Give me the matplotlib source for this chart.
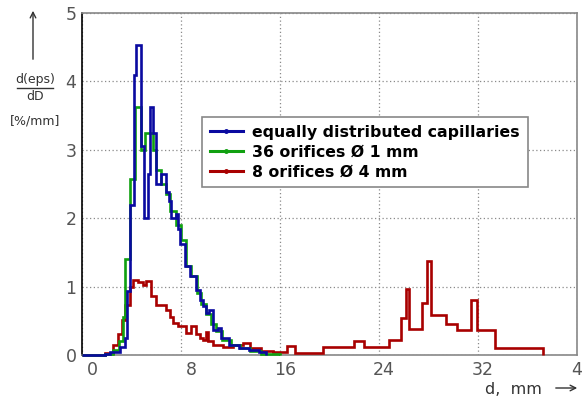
import matplotlib
matplotlib.use("Agg")
import matplotlib.pyplot as plt
import matplotlib.transforms as mtransforms
from matplotlib.lines import Line2D

# step edges (mm) and heights (%/mm)
blue_edges = [0, 1.85, 2.3, 3.06, 3.46, 3.6, 3.87, 4.22, 4.4, 4.75, 5.0, 5.35, 5.48,
              5.75, 6.02, 6.42, 6.77, 7.04, 7.22, 7.63, 7.76, 7.95, 8.3, 8.7, 9.24,
              9.5, 9.77, 10.05, 10.3, 10.6, 11.0, 11.26, 11.9, 12.7, 13.5, 14.3, 14.9]
blue_vals = [0, 0.02, 0.05, 0.12, 0.25, 0.93, 2.2, 4.09, 4.53, 3.06, 2.01, 2.65,
             3.63, 3.24, 2.5, 2.65, 2.38, 2.25, 2.01, 2.06, 1.84, 1.62, 1.3, 1.15,
             0.95, 0.81, 0.71, 0.61, 0.66, 0.37, 0.4, 0.25, 0.15, 0.1, 0.07, 0.04]

green_edges = [0, 1.85, 2.5, 3.0, 3.3, 3.46, 3.87, 4.3, 4.75, 5.1, 5.7, 6.0, 6.4,
               6.8, 7.1, 7.6, 8.0, 8.4, 8.8, 9.3, 9.6, 10.0, 10.4, 10.8, 11.3, 12.0,
               12.8, 13.6, 14.5, 16.0]
green_vals = [0, 0.02, 0.08, 0.2, 0.55, 1.4, 2.57, 3.63, 3.0, 3.24, 3.0, 2.7, 2.5,
              2.35, 2.1, 1.9, 1.68, 1.3, 1.15, 0.9, 0.75, 0.6, 0.45, 0.35, 0.22,
              0.15, 0.1, 0.06, 0.02]

red_edges = [0, 1.85, 2.5, 2.9, 3.2, 3.46, 3.87, 4.13, 4.53, 4.94, 5.2, 5.56, 6.02,
             6.8, 7.09, 7.36, 7.76, 8.4, 8.84, 9.24, 9.5, 9.77, 10.05, 10.15, 10.6,
             11.4, 12.2, 13.0, 13.6, 14.5, 15.4, 16.6, 17.2, 19.45, 22.0, 22.8, 24.8,
             25.8, 26.2, 26.4, 27.45, 27.9, 28.2, 29.4, 30.3, 31.45, 31.9, 33.4, 37.25]
red_vals = [0, 0.03, 0.15, 0.3, 0.51, 0.73, 1.0, 1.09, 1.06, 1.03, 1.08, 0.86, 0.73,
            0.66, 0.56, 0.47, 0.42, 0.32, 0.42, 0.3, 0.25, 0.22, 0.34, 0.2, 0.15,
            0.12, 0.15, 0.17, 0.1, 0.06, 0.05, 0.13, 0.03, 0.11, 0.2, 0.12, 0.22,
            0.54, 0.96, 0.38, 0.76, 1.38, 0.59, 0.45, 0.37, 0.81, 0.37, 0.1]

labels = ["equally distributed capillaries", "36 orifices \u00d8 1 mm", "8 orifices \u00d8 4 mm"]
colors = ["#0a0aa0", "#10a010", "#a80000"]
x_ticks = [0, 8, 16, 24, 32, 40]
y_ticks = [0, 1, 2, 3, 4, 5]

plt.rcParams['font.family'] = ['DejaVu Sans']
W, H = 582, 398
fig = plt.figure(figsize=(W / 100, H / 100), dpi=100)
ax = fig.add_axes([82 / W, 1 - 355 / H, 495 / W, 342 / H])

ax.stairs(red_vals, red_edges, color=colors[2], lw=1.9, baseline=0, clip_on=False, zorder=3)
ax.stairs(green_vals, green_edges, color=colors[1], lw=1.9, baseline=0, clip_on=False, zorder=3)
ax.stairs(blue_vals, blue_edges, color=colors[0], lw=1.9, baseline=0, clip_on=False, zorder=3)

ax.set_xlim(0, 40)
ax.set_ylim(0, 5)
ax.set_xticks(x_ticks)
ax.set_yticks(y_ticks)
ax.grid(True, color="#8a8a8a", linestyle=(0, (1, 2)), lw=0.9)
ax.tick_params(length=0, labelsize=12.5, labelcolor="#555555", pad=4)
for lab in ax.get_xticklabels():
    lab.set_horizontalalignment("right")
    lab.set_transform(lab.get_transform() + mtransforms.ScaledTranslation(0.16, 0, fig.dpi_scale_trans))

for side in ["top", "right", "bottom"]:
    ax.spines[side].set_color("#888888")
ax.spines["left"].set_color("black")
for s in ax.spines.values():
    s.set_linewidth(1.2)

handles = [Line2D([], [], color=c, lw=2.2, marker="o", markersize=2.5) for c in colors]
leg = ax.legend(handles, labels, loc="upper left", bbox_to_anchor=((202 - 82) / 495, (355 - 117) / 342),
                borderaxespad=0, fancybox=False, edgecolor="#888888", framealpha=1,
                prop={"weight": "bold", "size": 11.3}, handlelength=2.1, handletextpad=0.6,
                labelspacing=0.3, borderpad=0.5)
leg.get_frame().set_linewidth(1.2)
leg.set_zorder(5)

# y axis label with arrow and fraction
gray = "#333333"
ax.annotate("", xy=(33, H - 8), xytext=(33, H - 62), xycoords="figure pixels",
            arrowprops=dict(arrowstyle="->", color=gray, lw=1))
fig.text(35 / W, 1 - 80 / H, "d(eps)", ha="center", va="center", fontsize=9, color=gray)
fig.add_artist(Line2D([17 / W, 53 / W], [1 - 88 / H, 1 - 88 / H], color=gray, lw=1, transform=fig.transFigure))
fig.text(35 / W, 1 - 97 / H, "dD", ha="center", va="center", fontsize=9, color=gray)
fig.text(35 / W, 1 - 121 / H, "[%/mm]", ha="center", va="center", fontsize=9, color=gray)

# x axis label
fig.text(485 / W, 1 - 389 / H, "d,  mm", ha="left", va="center", fontsize=11.5, color=gray)
ax.annotate("", xy=(580, H - 388), xytext=(553, H - 388), xycoords="figure pixels",
            arrowprops=dict(arrowstyle="->", color=gray, lw=1))

fig.savefig("out.png", dpi=100)
